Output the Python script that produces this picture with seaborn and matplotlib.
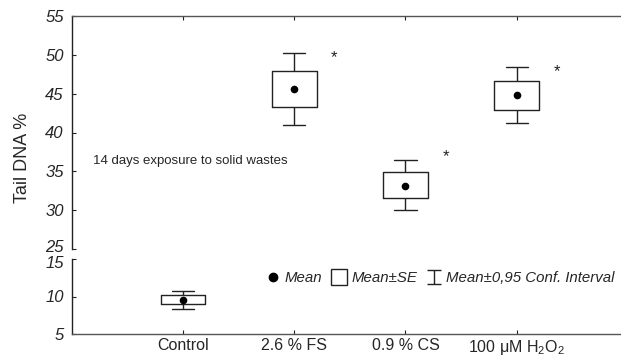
import numpy as np
import pandas as pd
import matplotlib
matplotlib.use("Agg")
import matplotlib.pyplot as plt
import matplotlib.transforms as mtrans
from matplotlib.lines import Line2D
from matplotlib.path import Path
import seaborn as sns

# ---- data ----
groups = ["Control", "2.6 % FS", "0.9 % CS", "100 uM H2O2"]
tick_labels = ["Control", "2.6 % FS", "0.9 % CS", "100 \u03bcM H$_2$O$_2$"]
means = [9.6, 45.6, 33.1, 44.8]
se_low = [9.0, 43.3, 31.6, 42.9]
se_high = [10.2, 47.9, 34.9, 46.6]
ci_low = [8.3, 41.0, 30.0, 41.2]
ci_high = [10.7, 50.2, 36.5, 48.4]
star_groups = ["2.6 % FS", "0.9 % CS", "100 uM H2O2"]
star_y = [49.7, 36.9, 47.8]

# five values per group -> boxplot quartiles = +-SE, whiskers (0-100 %) = CI
rows = []
for g, a, b, m, c, d in zip(groups, ci_low, se_low, means, se_high, ci_high):
    for v in (a, b, m, c, d):
        rows.append({"group": g, "value": v})
df = pd.DataFrame(rows)

sns.set_style("ticks")
plt.rcParams["font.family"] = ["Liberation Sans", "DejaVu Sans"]
plt.rcParams["mathtext.fontset"] = "custom"
plt.rcParams["mathtext.rm"] = "Liberation Sans"

W, H = 621, 357
fig = plt.figure(figsize=(W / 100, H / 100), dpi=100)
ax_top = fig.add_axes([72 / W, 1 - 249 / H, 548 / W, 233 / H])
ax_bot = fig.add_axes([72 / W, 1 - 334 / H, 548 / W, 75 / H])

line_col = "#222222"
spine_col = "#555555"
for ax in (ax_top, ax_bot):
    sns.boxplot(data=df, x="group", y="value", order=groups, whis=(0, 100),
                width=0.4, fill=False, color=line_col, linewidth=1,
                medianprops={"visible": False}, ax=ax)
    sns.stripplot(x=groups, y=means, order=groups, jitter=False,
                  color="black", size=5.5, ax=ax)
    ax.set_xlim(-1.0, 3.93)
    ax.set_xlabel("")
    ax.set_ylabel("")
    ax.tick_params(axis="both", direction="in", length=3, color="#222222")
    ax.tick_params(axis="y", pad=6)
    ax.tick_params(axis="x", pad=3)
    ax.spines["right"].set_visible(False)
    for s in ax.spines.values():
        s.set_color(spine_col)
        s.set_linewidth(1)
    ax.spines["left"].set_color("#222222")

# top panel
ax_top.set_ylim(25, 55)
ax_top.set_yticks(np.arange(25, 56, 5))
ax_top.spines["bottom"].set_visible(False)
ax_top.set_xticks(range(len(groups)))
ax_top.tick_params(axis="x", bottom=False, labelbottom=False, top=True,
                   labeltop=False)
ax_top.set_yticklabels([str(v) for v in range(25, 56, 5)], fontsize=12,
                       fontstyle="italic")

# bottom panel
ax_bot.set_ylim(5, 15)
ax_bot.set_yticks([5, 10, 15])
ax_bot.set_yticklabels(["5", "10", "15"], fontsize=12, fontstyle="italic")
ax_bot.spines["top"].set_visible(False)
ax_bot.set_xticks(range(len(groups)))
ax_bot.set_xticklabels(tick_labels, fontsize=11.5)

# the break: nudge "25" up and "15" down so they just touch
ax_top.get_yticklabels()[0].set_transform(
    ax_top.get_yticklabels()[0].get_transform()
    + mtrans.ScaledTranslation(0, 2 / 72, fig.dpi_scale_trans))
ax_bot.get_yticklabels()[-1].set_transform(
    ax_bot.get_yticklabels()[-1].get_transform()
    + mtrans.ScaledTranslation(0, -2 / 72, fig.dpi_scale_trans))

# significance stars
for g, y in zip(star_groups, star_y):
    ax_top.text(groups.index(g) + 0.36, y, "*", ha="center", va="center",
                fontsize=12, color=line_col)

ax_top.text(-0.81, 36.3, "14 days exposure to solid wastes", fontsize=9.5,
            ha="left", va="center")

fig.text(0.037, 0.557, "Tail DNA %", rotation=90, ha="center", va="center",
         fontsize=13)

# legend
ibeam = Path([(-1, 1), (1, 1), (0, 1), (0, -1), (-1, -1), (1, -1)],
             [Path.MOVETO, Path.LINETO, Path.MOVETO, Path.LINETO,
              Path.MOVETO, Path.LINETO])
handles = [
    Line2D([], [], ls="", marker="o", color="black", markersize=6),
    Line2D([], [], ls="", marker="s", mfc="white", mec=line_col,
           markersize=11, mew=1),
    Line2D([], [], ls="", marker=ibeam, mfc="none", mec=line_col,
           markersize=10, mew=1),
]
leg = ax_bot.legend(handles, ["Mean", "Mean\u00b1SE", "Mean\u00b10,95 Conf. Interval"],
                    loc="center right", bbox_to_anchor=(1.0, 0.75), ncol=3,
                    frameon=False, handlelength=1.0, handletextpad=0.3,
                    columnspacing=0.6, borderaxespad=0.0,
                    prop={"size": 10.8, "style": "italic"})

fig.savefig("out.png", dpi=100)
